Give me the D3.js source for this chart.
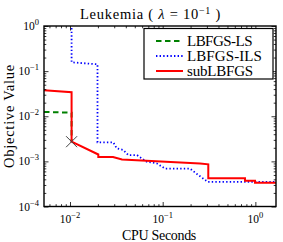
<!DOCTYPE html>
<html>
<head>
<meta charset="utf-8">
<script src="https://cdn.jsdelivr.net/npm/d3@7"></script>
<style>
  body { margin: 0; background: #fff; }
  text { font-family: "Liberation Serif", "DejaVu Serif", serif; fill: #000; }
</style>
</head>
<body>
<svg id="chart" width="283" height="242"></svg>
<script>
// LBFGS-LS (green dashed)
const lsT = [0.00524, 0.0104, 0.0104];
const lsV = [0.0125, 0.0120, 0.00273];
// LBFGS-ILS (blue dotted)
const ilsT = [0.0104, 0.0104, 0.0198, 0.0198, 0.0293, 0.0319, 0.0376, 0.0426, 0.0528, 0.0673, 0.0861, 0.106, 0.197, 0.242, 0.308, 1.67];
const ilsV = [0.9, 0.157, 0.1417, 0.00265, 0.00265, 0.00195, 0.00179, 0.00138, 0.00138, 0.000984, 0.000906, 0.000693, 0.000693, 0.000499, 0.00035, 0.00035];
// subLBFGS (red solid)
const subT = [0.00524, 0.0104, 0.0104, 0.0202, 0.0202, 0.0291, 0.0364, 0.253, 0.3105, 0.3105, 0.773, 0.773, 0.991, 0.991, 1.67];
const subV = [0.0378, 0.0341, 0.00273, 0.00142, 0.00125, 0.00125, 0.0011, 0.000897, 0.000861, 0.000422, 0.000422, 0.000373, 0.000373, 0.000337, 0.000337];
// failure mark of LBFGS-LS
const failT = [0.0104];
const failV = [0.00273];

const xMajor = [0.01, 0.1, 1];
const xLabels = ['\u22122', '\u22121', '0'];
const yMajor = [1e-4, 1e-3, 1e-2, 1e-1, 1];
const yLabels = ['\u22124', '\u22123', '\u22122', '\u22121', '0'];

const series = [
  { name: 'LBFGS-LS', t: lsT, v: lsV, color: '#008000', width: 2, dash: '5.5,3.5', w: 65 },
  { name: 'LBFGS-ILS', t: ilsT, v: ilsV, color: '#0000ff', width: 1.8, dash: '1.4,2.2', w: 75 },
  { name: 'subLBFGS', t: subT, v: subV, color: '#ff0000', width: 2, dash: null, w: 66 }
];

const L = 44, R = 276, T = 26, B = 206.5;
const svg = d3.select('#chart');
const x = d3.scaleLog().domain([0.00524, 1.67]).range([L, R]);
const y = d3.scaleLog().domain([1e-4, 1]).range([B, T]);

function minors(lo, hi) {
  let out = [];
  for (let e = Math.floor(Math.log10(lo)); e <= Math.ceil(Math.log10(hi)); e++) {
    for (let k = 2; k <= 9; k++) {
      let v = k * Math.pow(10, e);
      if (v > lo && v < hi) out.push(v);
    }
  }
  return out;
}

// stretch a text to the width seen in the picture (Computer Modern is wider than Times)
function fitWidth(sel, target) {
  const node = sel.node();
  const n = node.textContent.length;
  const cur = node.getComputedTextLength();
  sel.style('letter-spacing', ((target - cur) / n) + 'px');
  return sel;
}

svg.append('clipPath').attr('id', 'clip')
  .append('rect').attr('x', L).attr('y', T).attr('width', R - L).attr('height', B - T);

const gLines = svg.append('g').attr('clip-path', 'url(#clip)');
const line = d3.line().x(d => x(d[0])).y(d => y(d[1]));

series.forEach(s => {
  gLines.append('path')
    .datum(d3.zip(s.t, s.v))
    .attr('d', line)
    .attr('fill', 'none')
    .attr('stroke', s.color)
    .attr('stroke-width', s.width)
    .attr('stroke-dasharray', s.dash);
});

// x marker
gLines.selectAll('.fail').data(d3.zip(failT, failV)).enter().append('path')
  .attr('d', 'M-5.5,-5.5L5.5,5.5M-5.5,5.5L5.5,-5.5')
  .attr('transform', d => `translate(${x(d[0])},${y(d[1])})`)
  .attr('stroke', '#444').attr('stroke-width', 1).attr('fill', 'none');

// ticks, inside on all four sides
function ticks(axisFn, scale, values, size, tx, ty) {
  const g = svg.append('g').attr('transform', `translate(${tx},${ty})`)
    .call(axisFn(scale).tickValues(values).tickSize(-size).tickFormat(''));
  g.select('.domain').remove();
  g.selectAll('line').attr('stroke', '#000').attr('stroke-width', 0.8);
}
const xMin = minors(0.00524, 1.67), yMin = minors(1e-4, 1);
ticks(d3.axisBottom, x, xMajor, 4.5, 0, B);
ticks(d3.axisBottom, x, xMin, 2.3, 0, B);
ticks(d3.axisTop, x, xMajor, 4.5, 0, T);
ticks(d3.axisTop, x, xMin, 2.3, 0, T);
ticks(d3.axisLeft, y, yMajor, 4.5, L, 0);
ticks(d3.axisLeft, y, yMin, 2.3, L, 0);
ticks(d3.axisRight, y, yMajor, 4.5, R, 0);
ticks(d3.axisRight, y, yMin, 2.3, R, 0);

svg.append('rect').attr('x', L).attr('y', T).attr('width', R - L).attr('height', B - T)
  .attr('fill', 'none').attr('stroke', '#000').attr('stroke-width', 1.4);

// tick labels 10^k
function powLabel(px, py, exp, anchor) {
  const t = svg.append('text').attr('x', px).attr('y', py)
    .attr('text-anchor', anchor).style('font-size', '11.5px');
  t.append('tspan').text('10');
  t.append('tspan').attr('dy', -5).style('font-size', '8.5px').text(exp);
}
xMajor.forEach((v, i) => powLabel(x(v), 222.5, xLabels[i], 'middle'));
yMajor.forEach((v, i) => powLabel(39, y(v) + 4, yLabels[i], 'end'));

// titles
const title = svg.append('text').attr('x', 80).attr('y', 19).style('font-size', '14.5px');
title.append('tspan').text('Leukemia ( ');
title.append('tspan').style('font-style', 'italic').text('\u03bb');
title.append('tspan').text(' = 10');
title.append('tspan').attr('dy', -5.5).style('font-size', '10px').text('\u22121');
title.append('tspan').attr('dy', 5.5).text(' )');
fitWidth(title, 141);

fitWidth(svg.append('text').attr('x', 122).attr('y', 240)
  .style('font-size', '14px').text('CPU Seconds'), 74);
const yl = svg.append('text').attr('transform', 'translate(14,116) rotate(-90)')
  .style('font-size', '14.5px').text('Objective Value');
fitWidth(yl, 104);
yl.attr('x', -52);

// legend
const lg = svg.append('g');
lg.append('rect').attr('x', 144).attr('y', 28.5).attr('width', 129).attr('height', 50.5)
  .attr('fill', '#fff').attr('stroke', '#000').attr('stroke-width', 1.2);
series.forEach((s, i) => {
  const yy = 41 + i * 15;
  lg.append('line').attr('x1', 156).attr('x2', 183).attr('y1', yy).attr('y2', yy)
    .attr('stroke', s.color).attr('stroke-width', s.width).attr('stroke-dasharray', s.dash);
  fitWidth(lg.append('text').attr('x', 187).attr('y', yy + 5)
    .style('font-size', '15px').text(s.name), s.w);
});
</script>
</body>
</html>
